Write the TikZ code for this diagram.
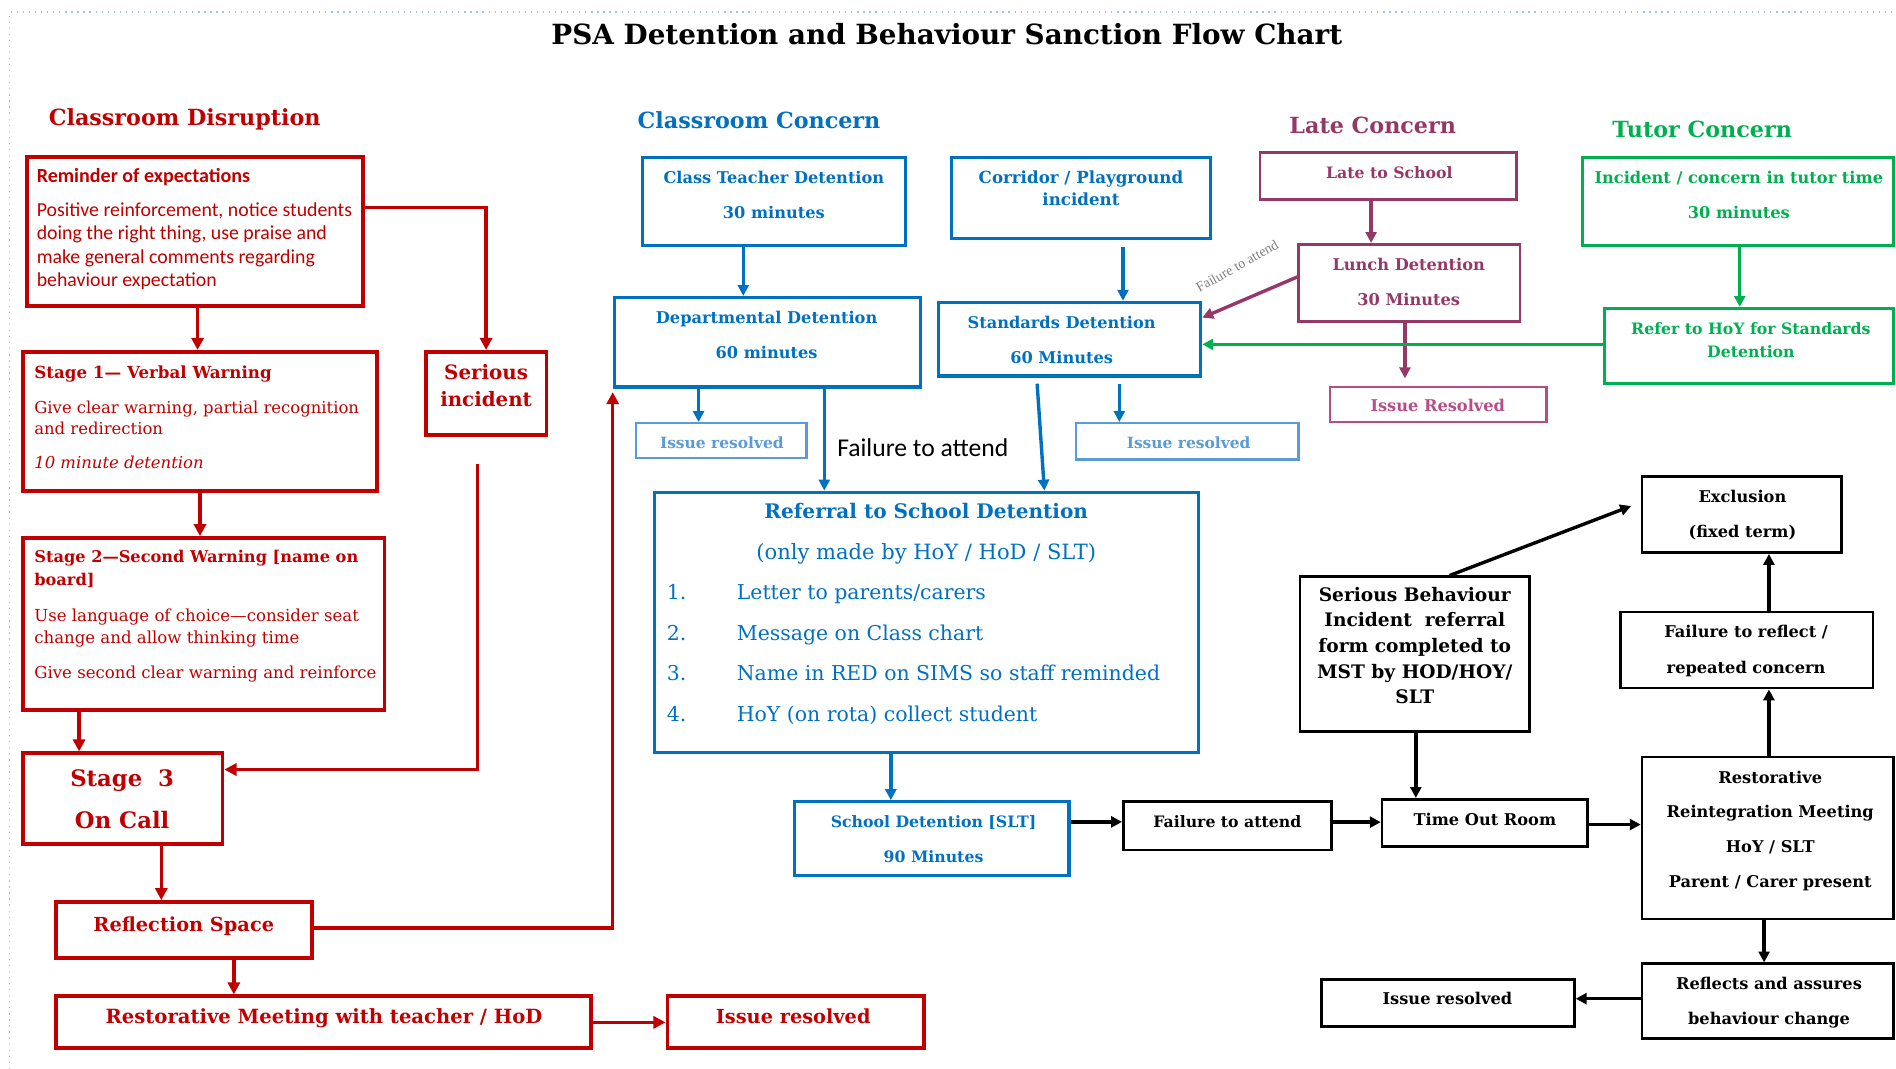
\documentclass[tikz,border=0pt]{standalone}
\usepackage{fontspec}
\setmainfont{DejaVu Serif}
\newfontfamily\carl{Carlito}
\newfontfamily\tmsf{Liberation Serif}
\usetikzlibrary{arrows.meta,fit,calc}
\definecolor{cRed}{HTML}{C00000}
\definecolor{cBlue}{HTML}{0070C0}
\definecolor{cLBlue}{HTML}{5B9BD5}
\definecolor{cPur}{HTML}{953868}
\definecolor{cLPur}{HTML}{B84C88}
\definecolor{cGreen}{HTML}{00B050}
\newcommand\fs[2]{\fontsize{#1}{#2}\selectfont}
\begin{document}
\begin{tikzpicture}[x=0.5pt,y=-0.5pt,
  bx/.style={inner sep=0pt, fit={#1}},
  redbox/.style={draw=cRed, line width=1.6pt},
  bluebox/.style={draw=cBlue, line width=1.3pt},
  lbluebox/.style={draw=cLBlue, line width=1pt},
  purbox/.style={draw=cPur, line width=1.1pt},
  lpurbox/.style={draw=cLPur, line width=1.1pt},
  grnbox/.style={draw=cGreen, line width=1.2pt},
  blkbox/.style={draw=black, line width=1.1pt},
  redarr/.style={draw=cRed, line width=1.4pt, -{Triangle[length=5pt,width=5pt]}},
  bluearr/.style={draw=cBlue, line width=1.4pt, -{Triangle[length=4.5pt,width=4.5pt]}},
  blkarr/.style={draw=black, line width=1.4pt, -{Triangle[length=4.5pt,width=4.5pt]}},
  purarr/.style={draw=cPur, line width=1.4pt, -{Triangle[length=4.5pt,width=4.5pt]}},
  grnarr/.style={draw=cGreen, line width=1.4pt, -{Triangle[length=4.5pt,width=4.5pt]}},
  t/.style={inner sep=0pt, anchor=north, align=center},
  tl/.style={inner sep=0pt, anchor=north west, align=left},
  head/.style={inner sep=0pt, anchor=west, font=\bfseries\fs{9.2}{12}},
  sb/.style={font=\bfseries\fs{6.7}{14.5}}
]
\useasboundingbox (0,0) rectangle (1568,884);
\draw[cLBlue!60, dotted, line width=0.5pt] (8,884) -- (8,10) -- (1568,10);

% title and headings
\node[inner sep=0pt, font=\bfseries\fs{11.5}{14}] (title) at (783,28) {PSA Detention and Behaviour Sanction Flow Chart};
\node[head, text=cRed] (hDis) at (40,99) {Classroom Disruption};
\node[head, text=cBlue] (hCon) at (527,99) {Classroom Concern};
\node[head, text=cPur] (hLate) at (1066,104) {Late Concern};
\node[head, text=cGreen] (hTut) at (1333,107) {Tutor Concern};

% ---------- red column ----------
\node[redbox, bx={(22,130)(300,253)}] (remind) {};
\node[redbox, bx={(19,291)(312,406)}] (stage1) {};
\node[redbox, bx={(352,291)(452,360)}] (serious) {};
\node[redbox, bx={(19,445)(318,587)}] (stage2) {};
\node[redbox, bx={(19,623)(184,698)}] (stage3) {};
\node[redbox, bx={(46,746)(258,792)}] (reflect) {};
\node[redbox, bx={(46,824)(489,867)}] (restor) {};
\node[redbox, bx={(552,824)(764,867)}] (resR) {};

\node[tl, text=cRed, font=\carl\bfseries\fs{8.3}{9}] (remindH) at (30,139) {Reminder of expectations};
\node[tl, text=cRed, font=\carl\fs{8.2}{9.75}] (remindB) at (30,167) {Positive reinforcement, notice students\\doing the right thing, use praise and\\make general comments regarding\\behaviour expectation};
\node[tl, text=cRed, font=\bfseries\fs{6.9}{9}] (s1H) at (28,302) {Stage 1— Verbal Warning};
\node[tl, text=cRed, font=\fs{6.8}{9}] (s1B) at (28,331) {Give clear warning, partial recognition\\and redirection};
\node[tl, text=cRed, font=\itshape\fs{6.8}{9}] (s1I) at (28,377) {10 minute detention};
\node[t, text=cRed, font=\bfseries\fs{8.2}{11}] (serT) at (402,301) {Serious\\incident};
\node[tl, text=cRed, font=\bfseries\fs{6.7}{9.5}] (s2H) at (28,455) {Stage 2—Second Warning [name on\\board]};
\node[tl, text=cRed, font=\fs{6.85}{9}] (s2B) at (28,503) {Use language of choice—consider seat\\change and allow thinking time};
\node[tl, text=cRed, font=\fs{6.85}{9}] (s2C) at (28,550) {Give second clear warning and reinforce};
\node[t, text=cRed, font=\bfseries\fs{9.4}{17.5}] (s3T) at (101,636) {Stage\ \ 3\\On Call};
\node[t, text=cRed, font=\bfseries\fs{8}{10}] (reflT) at (152,758) {Reflection Space};
\node[t, text=cRed, font=\bfseries\fs{8.1}{10}] (restT) at (268,834) {Restorative Meeting with teacher / HoD};
\node[t, text=cRed, font=\bfseries\fs{8}{10}] (resRT) at (656,834) {Issue resolved};

\draw[redarr] ($(remind.south west)+(143,0)$) coordinate (a1) -- (a1 |- stage1.north);
\draw[redarr] ($(remind.north east)+(0,43)$) -| (serious.north);
\draw[redarr] ($(stage1.south west)+(148,0)$) coordinate (a2) -- (a2 |- stage2.north);
\draw[redarr] ($(serious.south)+(-7,22)$) |- ($(stage3.north east)+(0,15)$);
\draw[redarr] ($(stage2.south west)+(48,0)$) coordinate (a3) -- (a3 |- stage3.north);
\draw[redarr] ($(stage3.south west)+(116,0)$) coordinate (a4) -- (a4 |- reflect.north);
\draw[redarr] ($(reflect.south west)+(149,0)$) coordinate (a5) -- (a5 |- restor.north);
\draw[redarr] (restor.east) -- (resR.west);

% ---------- blue column ----------
\node[bluebox, bx={(531,130)(749,203)}] (ctd) {};
\node[bluebox, bx={(787,130)(1001,197)}] (corr) {};
\node[bluebox, bx={(508,246)(761,320)}] (dept) {};
\node[bluebox, bx={(776,250)(993,311)}] (stand) {};
\node[lbluebox, bx={(526,350)(667,379)}] (ir1) {};
\node[lbluebox, bx={(890,350)(1074,380)}] (ir2) {};
\node[bluebox, bx={(541,407)(991,622)}] (refl) {};
\node[bluebox, bx={(657,663)(884,724)}] (sdet) {};

\draw[redarr] ($(reflect.north east)+(0,23)$) -| ($(dept.south west)+(0,3)$);

\node[t, text=cBlue, sb] (ctdT) at (640,141) {Class Teacher Detention\\30 minutes};
\node[t, text=cBlue, font=\bfseries\fs{6.9}{9}] (corrT) at (894,141) {Corridor / Playground\\incident};
\node[t, text=cBlue, sb] (deptT) at (634,257) {Departmental Detention\\60 minutes};
\node[t, text=cBlue, sb] (standT) at (878,261) {Standards Detention\\60 Minutes};
\node[t, text=cLBlue, font=\bfseries\fs{6.4}{8}] (ir1T) at (597,361) {Issue resolved};
\node[t, text=cLBlue, font=\bfseries\fs{6.4}{8}] (ir2T) at (983,361) {Issue resolved};
\node[t, text=cBlue, font=\bfseries\fs{8.3}{10}] (reflTT) at (766,416) {Referral to School Detention};
\node[t, text=cBlue, font=\fs{8.7}{10}] (reflS) at (766,449) {(only made by HoY / HoD / SLT)};
\node[tl, text=cBlue, font=\fs{8.45}{16.8}] (reflL) at (551,483) {\makebox[29pt][l]{1.}Letter to parents/carers\\\makebox[29pt][l]{2.}Message on Class chart\\\makebox[29pt][l]{3.}Name in RED on SIMS so staff reminded\\\makebox[29pt][l]{4.}HoY (on rota) collect student};
\node[t, text=cBlue, font=\bfseries\fs{6.5}{14.5}] (sdetT) at (772,674) {School Detention [SLT]\\90 Minutes};
\node[inner sep=0pt, anchor=west, font=\carl\fs{10.6}{12}] (ftaL) at (692,370) {Failure to attend};

\draw[bluearr] ($(ctd.south west)+(85,0)$) coordinate (b1) -- (b1 |- dept.north);
\draw[bluearr] ($(corr.south west)+(143,6)$) coordinate (b2) -- (b2 |- stand.north);
\draw[bluearr] ($(dept.south west)+(71,0)$) coordinate (b3) -- (b3 |- ir1.north);
\draw[bluearr] ($(dept.south west)+(175,0)$) coordinate (b4) -- (b4 |- refl.north);
\draw[bluearr] ($(stand.south west)+(83,5)$) -- ($(refl.north west)+(324,0)$);
\draw[bluearr] ($(stand.south west)+(151,5)$) coordinate (b5) -- (b5 |- ir2.north);
\draw[bluearr] ($(refl.south west)+(197,0)$) coordinate (b6) -- (b6 |- sdet.north);

% ---------- black ----------
\node[blkbox, bx={(929,663)(1101,703)}] (fta) {};
\node[blkbox, bx={(1143,661)(1313,700)}] (tor) {};
\node[blkbox, bx={(1358,626)(1566,760)}] (rrm) {};
\node[blkbox, bx={(1340,506)(1549,569)}] (ftr) {};
\node[blkbox, bx={(1358,394)(1523,457)}] (excl) {};
\node[blkbox, bx={(1075,477)(1265,605)}] (sbi) {};
\node[blkbox, bx={(1358,797)(1566,859)}] (refx) {};
\node[blkbox, bx={(1093,810)(1302,849)}] (irb) {};

\node[t, font=\bfseries\fs{6.5}{8}] (ftaT) at (1015,674) {Failure to attend};
\node[t, font=\bfseries\fs{6.7}{8}] (torT) at (1228,672) {Time Out Room};
\node[t, font=\bfseries\fs{6.7}{14.4}] (rrmT) at (1464,637) {Restorative\\Reintegration Meeting\\HoY / SLT\\Parent / Carer present};
\node[t, font=\bfseries\fs{6.7}{14.5}] (ftrT) at (1444,517) {Failure to reflect /\\repeated concern};
\node[t, font=\bfseries\fs{6.7}{14.5}] (exclT) at (1441,405) {Exclusion\\(fixed term)};
\node[t, font=\bfseries\fs{7.7}{10.6}] (sbiT) at (1170,485) {Serious Behaviour\\Incident\ \ referral\\form completed to\\MST by HOD/HOY/\\SLT};
\node[t, font=\bfseries\fs{6.7}{14.5}] (refxT) at (1463,808) {Reflects and assures\\behaviour change};
\node[t, font=\bfseries\fs{6.7}{8}] (irbT) at (1197,820) {Issue resolved};

\draw[blkarr] ($(sdet.north east)+(0,18)$) coordinate (k1) -- (k1 -| fta.west);
\draw[blkarr] ($(fta.north east)+(0,18)$) coordinate (k2) -- (k2 -| tor.west);
\draw[blkarr] ($(tor.north east)+(0,22)$) coordinate (k3) -- (k3 -| rrm.west);
\draw[blkarr] ($(rrm.north west)+(106,0)$) coordinate (k4) -- (k4 |- ftr.south);
\draw[blkarr] ($(ftr.north west)+(124,0)$) coordinate (k5) -- (k5 |- excl.south);
\draw[blkarr] ($(sbi.north west)+(125,0)$) -- ($(excl.west)+(-8,-7)$);
\draw[blkarr] ($(sbi.south west)+(97,0)$) coordinate (k6) -- (k6 |- tor.north);
\draw[blkarr] ($(rrm.south west)+(102,0)$) coordinate (k7) -- (k7 |- refx.north);
\draw[blkarr] ($(refx.north west)+(0,30)$) coordinate (k8) -- (k8 -| irb.east);

% ---------- purple ----------
\node[purbox, bx={(1042,126)(1254,165)}] (late) {};
\node[purbox, bx={(1074,202)(1257,266)}] (lunch) {};
\node[lpurbox, bx={(1100,320)(1279,349)}] (irp) {};
\node[t, text=cPur, font=\bfseries\fs{6.5}{8}] (lateT) at (1149,137) {Late to School};
\node[t, text=cPur, font=\bfseries\fs{6.7}{14.5}] (lunchT) at (1165,213) {Lunch Detention\\30 Minutes};
\node[t, text=cLPur, font=\bfseries\fs{6.7}{8}] (irpT) at (1189,330) {Issue Resolved};
\draw[purarr] ($(late.south west)+(93,0)$) coordinate (p1) -- (p1 |- lunch.north);
\draw[purarr] ($(lunch.south west)+(89,0)$) coordinate (p2) -- ($(p2 |- irp.north)+(0,-6)$);
\draw[purarr] ($(lunch.west)+(0,-5)$) -- ($(stand.north east)+(0,14)$);
\node[inner sep=0pt, rotate=29.5, text=gray, font=\tmsf\fs{5.8}{7}] (ftaLate) at (1023,220) {Failure to attend};

% ---------- green ----------
\node[grnbox, bx={(1309,130)(1566,203)}] (inc) {};
\node[grnbox, bx={(1327,255)(1566,317)}] (refer) {};
\node[t, text=cGreen, font=\bfseries\fs{6.7}{14.5}] (incT) at (1438,141) {Incident / concern in tutor time\\30 minutes};
\node[t, text=cGreen, font=\bfseries\fs{6.5}{9.5}] (referT) at (1448,266) {Refer to HoY for Standards\\Detention};
\draw[grnarr] ($(inc.south west)+(131,0)$) coordinate (g1) -- (g1 |- refer.north);
\draw[grnarr] ($(refer.north west)+(0,31)$) coordinate (g2) -- (g2 -| stand.east);
\end{tikzpicture}
\end{document}
